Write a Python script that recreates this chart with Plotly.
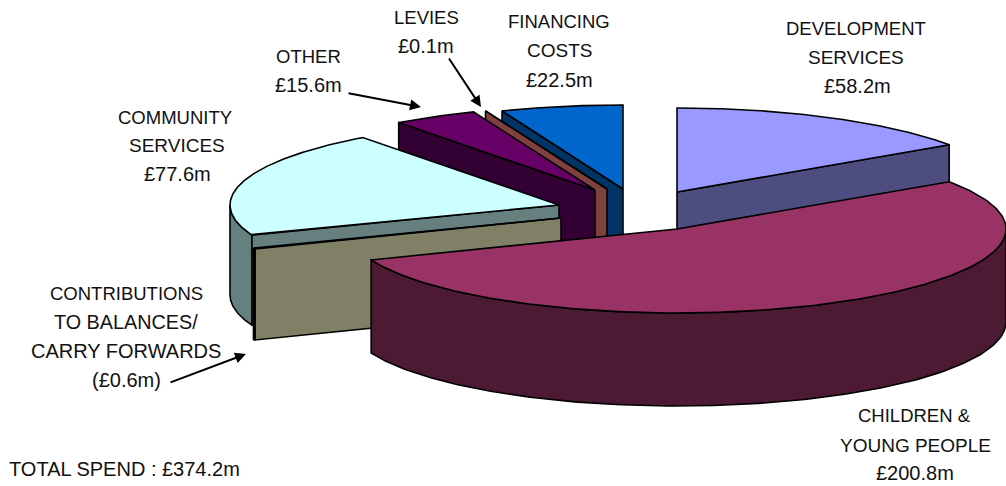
import numpy as np
import plotly.graph_objects as go

# Budget slices, clockwise from twelve o'clock (GBP millions)
slices = ["DEVELOPMENT SERVICES", "CHILDREN & YOUNG PEOPLE", "CONTRIBUTIONS", "COMMUNITY SERVICES",
          "OTHER", "LEVIES", "FINANCING COSTS"]
values = [58.2, 200.8, 0.6, 77.6, 15.6, 0.1, 22.5]

# Exploded centre and wall height of every slice, in page pixels
centre_x = [677, 677, 561, 559, 595, 607, 623]
centre_y = [192, 229, 218, 205, 190, 189, 189]
depths = [90, 93, 91, 90, 90, 90, 90]

top_colours = ["#9999FF", "#993366", "#FFFFCC", "#CCFFFF", "#660066", "#FF8080", "#0066CC"]
side_colours = ["#4D4D80", "#4D1A33", "#808066", "#668080", "#330033", "#804040", "#003366"]
outlines = [1.6, 1.6, 2.6, 1.6, 1.6, 1.6, 1.6]

# Back slices are painted first, the large front slice last
paint_order = [6, 5, 4, 3, 2, 0, 1]

RADIUS_X, RADIUS_Y = 329, 84

fig = go.Figure()


def add_polygon(xs, ys, colour, width):
    fig.add_trace(go.Scatter(
        x=np.append(xs, xs[0]), y=np.append(ys, ys[0]), mode="lines", fill="toself",
        fillcolor=colour, line=dict(color="#000000", width=width), hoverinfo="skip", showlegend=False))


def rim_point(cx, cy, deg):
    rad = np.radians(deg)
    return cx + RADIUS_X * np.sin(rad), cy - RADIUS_Y * np.cos(rad)


def faces_viewer(normal_deg):
    return np.cos(np.radians(normal_deg - 180)) > 1e-6


edges = np.concatenate([[0], np.cumsum(values)]) / sum(values) * 360

for i in paint_order:
    start, end = edges[i], edges[i + 1]
    cx, cy, depth, width = centre_x[i], centre_y[i], depths[i], outlines[i]

    # Curved outer wall on the front half of the ellipse
    lo, hi = max(start, 90), min(end, 270)
    if hi > lo:
        arc = np.linspace(lo, hi, 160)
        px, py = rim_point(cx, cy, arc)
        add_polygon(np.concatenate([px, px[::-1]]), np.concatenate([py, py[::-1] + depth]), side_colours[i], width)

    # Flat cut faces that turn towards the viewer
    for deg, normal in ((end, end + 90), (start, start - 90)):
        if faces_viewer(normal):
            px, py = rim_point(cx, cy, deg)
            add_polygon(np.array([cx, px, px, cx]), np.array([cy, py, py + depth, cy + depth]),
                        side_colours[i], 1.6)

    # Top surface
    arc = np.linspace(start, end, 200)
    px, py = rim_point(cx, cy, arc)
    add_polygon(np.concatenate([[cx], px]), np.concatenate([[cy], py]), top_colours[i], 1.6)

money = [f"£{v}m" for v in values]
# text, centre x, centre y, font size
label_lines = [
    ("DEVELOPMENT", 856, 28, 18.5), ("SERVICES", 856, 57, 19), (money[0], 857, 86, 20),
    ("CHILDREN &", 914, 415, 18.5), ("YOUNG PEOPLE", 915, 445, 19), (money[1], 915, 473, 20),
    ("CONTRIBUTIONS", 126, 293, 18.5), ("TO BALANCES/", 126, 322, 19.8), ("CARRY FORWARDS", 126, 351, 20),
    (f"(£{values[2]}m)", 126, 380, 20),
    ("COMMUNITY", 175, 117, 18.5), ("SERVICES", 177, 145, 19), (money[3], 177, 174, 20),
    ("OTHER", 308, 56, 18.5), (money[4], 308, 85, 20),
    ("LEVIES", 426, 17, 18.5), (money[5], 426, 46, 20),
    ("FINANCING", 559, 21, 18.5), ("COSTS", 559, 50, 19), (money[6], 559, 80, 20),
]
annotations = [dict(x=x, y=y, text=t, showarrow=False, xanchor="center", yanchor="middle",
                    xref="x", yref="y", font=dict(size=s)) for t, x, y, s in label_lines]
annotations.append(dict(x=7, y=469, text="TOTAL SPEND : £374.2m", showarrow=False,
                        xanchor="left", yanchor="middle", xref="x", yref="y", font=dict(size=20)))

# Leader arrows for the narrow slices
leaders = [(347, 93, 421, 107), (448, 57, 481, 107), (169, 383, 246, 354)]
for x0, y0, x1, y1 in leaders:
    annotations.append(dict(x=x1, y=y1, ax=x0, ay=y0, xref="x", yref="y", axref="x", ayref="y", text="",
                            showarrow=True, arrowhead=2, arrowsize=1.1, arrowwidth=2, arrowcolor="#000000"))

fig.update_layout(
    width=1006, height=486, margin=dict(l=0, r=0, t=0, b=0),
    paper_bgcolor="#FFFFFF", plot_bgcolor="#FFFFFF", showlegend=False,
    font=dict(family="Liberation Sans, Arial, sans-serif", size=18, color="#111111"),
    xaxis=dict(range=[0, 1006], visible=False, fixedrange=True),
    yaxis=dict(range=[486, 0], visible=False, fixedrange=True),
    annotations=annotations,
)

fig.write_html("out.html", config={"displayModeBar": False})
